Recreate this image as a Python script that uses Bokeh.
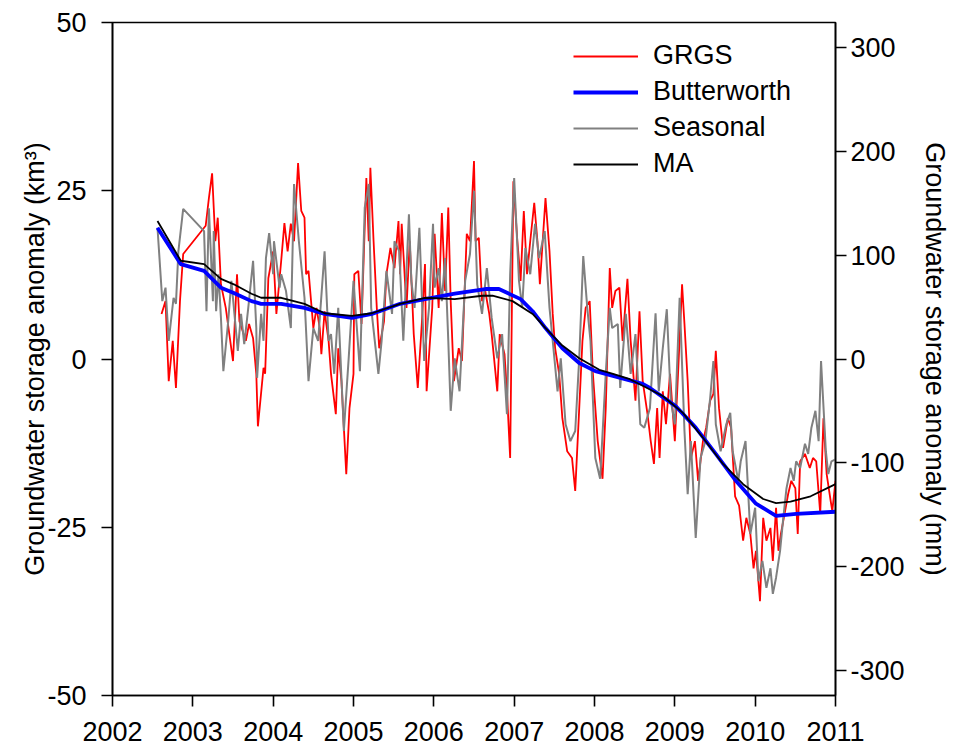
from bokeh.plotting import figure
from bokeh.models import (Range1d, LinearAxis, FixedTicker, Legend, LegendItem, CustomJSTickFormatter)
from bokeh.embed import file_html
from bokeh.resources import INLINE

# ---------------- data (decimal year, km^3) ----------------
grgs = [(2002.61, 6.7), (2002.66, 8.6), (2002.70, -3.3), (2002.75, 2.7), (2002.79, -4.3), (2002.84, 8.6), (2002.88, 15.6),
        (2003.16, 19.8), (2003.20, 23.9), (2003.24, 27.6), (2003.28, 17.5), (2003.31, 21.0), (2003.35, 11.1), (2003.41, 7.6),
        (2003.50, -0.3), (2003.55, 12.6), (2003.58, 5.6), (2003.66, 2.7), (2003.70, 5.2), (2003.75, 3.1), (2003.79, -2.2),
        (2003.81, -10.0), (2003.88, -1.3), (2003.90, -2.2), (2003.94, 12.0),
        (2004.00, 16.0), (2004.04, 6.7), (2004.10, 14.6), (2004.14, 20.2), (2004.18, 16.0), (2004.22, 20.1), (2004.26, 17.5),
        (2004.31, 29.1), (2004.35, 22.0), (2004.39, 21.0), (2004.41, 12.6), (2004.44, 13.1), (2004.50, 4.6), (2004.54, 7.6),
        (2004.58, 4.6), (2004.60, 0.7), (2004.64, 7.1), (2004.69, 2.7), (2004.72, -2.2), (2004.78, -8.2), (2004.81, 1.6),
        (2004.85, -3.3), (2004.91, -17.1), (2004.95, -7.3),
        (2005.00, -2.2), (2005.01, 12.6), (2005.06, 13.1), (2005.10, 5.2), (2005.16, 26.9), (2005.19, 17.5), (2005.21, 28.4),
        (2005.25, 17.5), (2005.29, 7.6), (2005.32, 1.6), (2005.38, 5.6), (2005.41, 12.6), (2005.46, 16.5), (2005.51, 13.5),
        (2005.56, 20.5), (2005.58, 12.6), (2005.60, 20.1), (2005.66, 7.6), (2005.70, 17.5), (2005.75, 3.7), (2005.80, -4.3),
        (2005.85, 5.2), (2005.89, 14.1), (2005.91, -4.8), (2005.98, 7.6),
        (2006.01, 18.6), (2006.06, 7.6), (2006.10, 21.7), (2006.14, 10.1), (2006.18, 22.5), (2006.21, 8.6), (2006.25, -3.3),
        (2006.31, 1.6), (2006.35, -0.3), (2006.41, 18.6), (2006.45, 17.5), (2006.50, 29.4), (2006.52, 17.5), (2006.56, 18.0),
        (2006.60, 8.6), (2006.64, 10.1), (2006.69, 6.7), (2006.72, 3.7), (2006.79, -4.8), (2006.82, 3.7), (2006.88, 0.7),
        (2006.91, -4.8), (2006.95, -14.7), (2006.99, 26.4),
        (2007.04, 17.5), (2007.08, 11.6), (2007.12, 22.0), (2007.16, 12.6), (2007.20, 17.5), (2007.25, 23.2), (2007.29, 17.5),
        (2007.32, 11.1), (2007.39, 23.9), (2007.44, 16.0), (2007.48, 6.7), (2007.51, 1.6), (2007.56, -2.2), (2007.60, -8.8),
        (2007.66, -13.7), (2007.72, -14.7), (2007.76, -19.6), (2007.81, -7.3), (2007.85, 2.7), (2007.89, 7.6), (2007.94, 8.6),
        (2007.98, -2.2),
        (2008.04, -12.2), (2008.10, -17.8), (2008.14, -7.3), (2008.19, 13.5), (2008.22, 7.6), (2008.26, 10.1), (2008.31, 10.6),
        (2008.35, 2.7), (2008.41, 11.9), (2008.45, 2.7), (2008.51, -6.2), (2008.56, 7.1), (2008.60, -3.3), (2008.66, -8.2),
        (2008.70, -12.2), (2008.74, -15.6), (2008.78, -7.3), (2008.81, -14.7), (2008.85, -4.8), (2008.89, -9.7), (2008.94, -2.2),
        (2009.00, -12.2), (2009.04, -2.2), (2009.09, 11.1), (2009.12, 5.2), (2009.16, -3.3), (2009.20, -14.7), (2009.25, -12.2),
        (2009.29, -18.1), (2009.35, -12.2), (2009.39, -10.2), (2009.44, -6.2), (2009.48, -5.2), (2009.51, 1.2), (2009.55, -7.3),
        (2009.60, -13.2), (2009.66, -8.8), (2009.70, -10.2), (2009.75, -20.4), (2009.80, -21.8), (2009.85, -27.0),
        (2009.89, -23.6), (2009.94, -26.0), (2009.98, -31.1),
        (2010.01, -28.5), (2010.06, -36.0), (2010.10, -23.6), (2010.14, -27.0), (2010.19, -25.1), (2010.22, -30.0),
        (2010.26, -22.1), (2010.29, -28.5), (2010.32, -26.0), (2010.38, -22.1), (2010.41, -20.1), (2010.45, -18.1),
        (2010.50, -19.2), (2010.53, -26.0), (2010.56, -15.2), (2010.62, -14.1), (2010.68, -16.2), (2010.72, -14.7),
        (2010.76, -15.2), (2010.81, -23.0), (2010.85, -8.8), (2010.89, -17.1), (2010.94, -21.1), (2010.96, -22.6),
        (2011.00, -18.1)]

seasonal = [(2002.56, 19.5), (2002.62, 8.6), (2002.66, 10.6), (2002.70, 2.7), (2002.76, 9.1), (2002.79, 8.2), (2002.82, 16.0),
            (2002.88, 22.3),
            (2003.14, 19.0), (2003.17, 7.1), (2003.20, 22.4), (2003.25, 8.6), (2003.26, 19.0), (2003.29, 7.1), (2003.32, 12.6),
            (2003.35, 6.1), (2003.38, -1.8), (2003.44, 5.6), (2003.48, 11.6), (2003.56, 1.2), (2003.60, 6.7), (2003.64, 2.2),
            (2003.69, 7.6), (2003.75, 14.6), (2003.79, 4.6), (2003.80, -2.8), (2003.85, 6.7), (2003.88, 2.7), (2003.91, 15.0),
            (2003.95, 18.7),
            (2004.00, 12.6), (2004.01, 17.5), (2004.08, 10.6), (2004.10, 12.6), (2004.16, 10.1), (2004.22, 4.6), (2004.26, 26.0),
            (2004.32, 17.5), (2004.39, 9.1), (2004.44, -3.3), (2004.50, 4.6), (2004.56, 2.7), (2004.64, 16.0), (2004.69, 2.7),
            (2004.72, 3.7), (2004.76, -2.2), (2004.81, 7.6), (2004.88, -10.7), (2004.94, 0.1),
            (2005.00, 11.6), (2005.08, -1.8), (2005.14, 22.5), (2005.19, 26.0), (2005.22, 7.6), (2005.31, -2.2), (2005.35, 2.7),
            (2005.41, 13.1), (2005.48, 6.7), (2005.51, 17.5), (2005.57, 16.0), (2005.62, 2.7), (2005.69, 21.5), (2005.72, 11.6),
            (2005.76, 7.6), (2005.82, 19.5), (2005.88, -0.3), (2005.94, 7.6), (2005.99, 20.1),
            (2006.01, 10.6), (2006.06, 13.5), (2006.10, 8.6), (2006.14, 15.0), (2006.18, 2.7), (2006.21, -7.7), (2006.26, 0.1),
            (2006.32, -4.8), (2006.39, 11.6), (2006.45, 15.6), (2006.50, 25.0), (2006.54, 11.1), (2006.60, 6.7), (2006.66, 13.5),
            (2006.72, 6.1), (2006.79, 0.1), (2006.85, 3.7), (2006.91, -8.2), (2006.95, 12.6),
            (2007.00, 26.9), (2007.06, 11.6), (2007.10, 7.6), (2007.14, 16.5), (2007.20, 12.6), (2007.26, 20.1), (2007.31, 15.0),
            (2007.38, 19.0), (2007.44, 7.6), (2007.48, 2.7), (2007.54, -4.8), (2007.58, 0.1), (2007.64, -9.7), (2007.70, -12.2),
            (2007.76, -10.7), (2007.81, 0.1), (2007.86, 15.3), (2007.91, 7.6), (2007.95, 2.7),
            (2008.01, -14.7), (2008.07, -17.8), (2008.14, -2.2), (2008.19, 7.6), (2008.22, 4.6), (2008.29, 5.2), (2008.32, -4.3),
            (2008.39, 6.7), (2008.45, -2.2), (2008.51, 3.7), (2008.57, -9.7), (2008.62, -10.2), (2008.69, -7.3), (2008.76, 6.8),
            (2008.80, -4.8), (2008.85, 1.6), (2008.90, 7.4), (2008.95, -6.2),
            (2009.00, -9.7), (2009.06, 9.1), (2009.12, -10.7), (2009.16, -20.1), (2009.20, -12.2), (2009.26, -26.6),
            (2009.32, -14.7), (2009.38, -12.2), (2009.44, -5.8), (2009.48, -0.3), (2009.51, -9.7), (2009.57, -13.7),
            (2009.64, -9.7), (2009.69, -8.0), (2009.72, -13.7), (2009.79, -18.1), (2009.82, -15.2), (2009.88, -12.2),
            (2009.94, -26.0),
            (2010.00, -22.1), (2010.04, -33.0), (2010.09, -30.0), (2010.14, -34.0), (2010.19, -31.1), (2010.22, -34.9),
            (2010.26, -32.5), (2010.31, -28.5), (2010.35, -23.6), (2010.39, -19.2), (2010.44, -16.2), (2010.48, -18.1),
            (2010.51, -15.2), (2010.56, -16.2), (2010.62, -12.6), (2010.66, -14.1), (2010.70, -10.2), (2010.75, -7.7),
            (2010.79, -12.2), (2010.82, -0.3), (2010.88, -13.7), (2010.91, -17.1), (2010.95, -15.2), (2011.00, -14.9)]

butterworth = [(2002.56, 19.5), (2002.85, 14.1), (2003.14, 13.1), (2003.35, 10.6), (2003.51, 9.8), (2003.73, 8.6),
               (2003.85, 8.2), (2004.10, 8.2), (2004.39, 7.6), (2004.64, 6.7), (2004.98, 6.1), (2005.23, 6.7),
               (2005.58, 8.2), (2005.89, 8.9), (2006.26, 9.7), (2006.64, 10.4), (2006.81, 10.4), (2007.08, 8.9),
               (2007.23, 7.1), (2007.39, 4.6), (2007.60, 1.6), (2007.81, -0.6), (2008.01, -1.8), (2008.23, -2.5),
               (2008.60, -3.7), (2008.69, -4.3), (2009.01, -7.0), (2009.26, -10.2), (2009.51, -14.1), (2009.76, -18.1),
               (2010.01, -21.5), (2010.26, -23.3), (2010.51, -23.0), (2011.00, -22.7)]

ma = [(2002.56, 20.5), (2002.85, 14.6), (2003.14, 14.1), (2003.35, 11.9), (2003.51, 11.1), (2003.73, 9.7),
      (2003.85, 9.1), (2004.10, 9.1), (2004.39, 8.2), (2004.64, 6.8), (2004.98, 6.4), (2005.23, 6.8),
      (2005.58, 8.2), (2005.89, 9.1), (2006.26, 8.9), (2006.60, 9.4), (2006.73, 9.4), (2006.98, 8.6),
      (2007.23, 6.7), (2007.39, 4.6), (2007.60, 2.0), (2007.81, 0.1), (2008.06, -1.6), (2008.23, -2.2),
      (2008.44, -3.0), (2008.85, -5.5), (2009.10, -8.0), (2009.35, -11.7), (2009.60, -15.6), (2009.85, -18.6),
      (2010.10, -20.8), (2010.26, -21.4), (2010.44, -21.2), (2010.69, -20.4), (2011.00, -18.6)]

year_ticks = [2002, 2003, 2004, 2005, 2006, 2007, 2008, 2009, 2010, 2011]
km3_ticks = [-50, -25, 0, 25, 50]
mm_ticks = [-300, -200, -100, 0, 100, 200, 300]
MM_PER_KM3 = 6.49

FONT = "Liberation Sans"
FS = "27px"

p = figure(width=952, height=753, output_backend="svg", toolbar_location=None,
           x_range=Range1d(2002, 2011), y_range=Range1d(-50, 50),
           min_border_left=112, min_border_right=117, min_border_top=22, min_border_bottom=58)
p.xgrid.visible = False
p.ygrid.visible = False
p.outline_line_color = "black"
p.outline_line_width = 1.6
p.background_fill_color = "white"
p.border_fill_color = "white"

def unzip(pairs):
    return [a for a, b in pairs], [b for a, b in pairs]

gx, gy = unzip(grgs)
sx, sy = unzip(seasonal)
bx, by = unzip(butterworth)
mx, my = unzip(ma)

r_grgs = p.line(gx, gy, line_color="#ff0000", line_width=1.8)
r_seas = p.line(sx, sy, line_color="#808080", line_width=2.0)
r_butt = p.line(bx, by, line_color="#0000ff", line_width=3.8)
r_ma = p.line(mx, my, line_color="black", line_width=1.8)

plain = CustomJSTickFormatter(code="return tick.toString();")

def style_axis(ax):
    ax.axis_line_color = "black"
    ax.axis_line_width = 1.6
    ax.major_tick_line_color = "black"
    ax.major_tick_line_width = 1.6
    ax.major_tick_out = 11
    ax.major_tick_in = 0
    ax.minor_tick_line_color = None
    ax.major_label_text_font = FONT
    ax.major_label_text_font_size = FS
    ax.major_label_text_color = "black"
    ax.axis_label_text_font = FONT
    ax.axis_label_text_font_size = FS
    ax.axis_label_text_font_style = "normal"
    ax.axis_label_text_color = "black"
    ax.formatter = plain

xa = p.xaxis[0]
xa.ticker = FixedTicker(ticks=year_ticks)
style_axis(xa)
xa.major_label_standoff = 15

ya = p.yaxis[0]
ya.ticker = FixedTicker(ticks=km3_ticks)
style_axis(ya)
ya.major_label_standoff = 15
ya.axis_label = "Groundwater storage anomaly (km³)"
ya.axis_label_standoff = -6

p.extra_y_ranges = {"mm": Range1d(-50 * MM_PER_KM3, 50 * MM_PER_KM3)}
ra = LinearAxis(y_range_name="mm", ticker=FixedTicker(ticks=mm_ticks),
                axis_label="Groundwater storage anomaly (mm)")
style_axis(ra)
ra.major_label_standoff = 4
ra.axis_label_standoff = 12
p.add_layout(ra, "right")

legend = Legend(items=[LegendItem(label="GRGS", renderers=[r_grgs]),
                       LegendItem(label="Butterworth", renderers=[r_butt]),
                       LegendItem(label="Seasonal", renderers=[r_seas]),
                       LegendItem(label="MA", renderers=[r_ma])],
                location=(461, 516), glyph_width=65, glyph_height=30, label_height=30,
                spacing=5, padding=0, margin=0, label_standoff=15,
                label_text_font=FONT, label_text_font_size=FS, label_text_color="black",
                border_line_color=None, background_fill_alpha=0)
p.add_layout(legend, "center")

open("out.html", "w").write(file_html(p, INLINE))
